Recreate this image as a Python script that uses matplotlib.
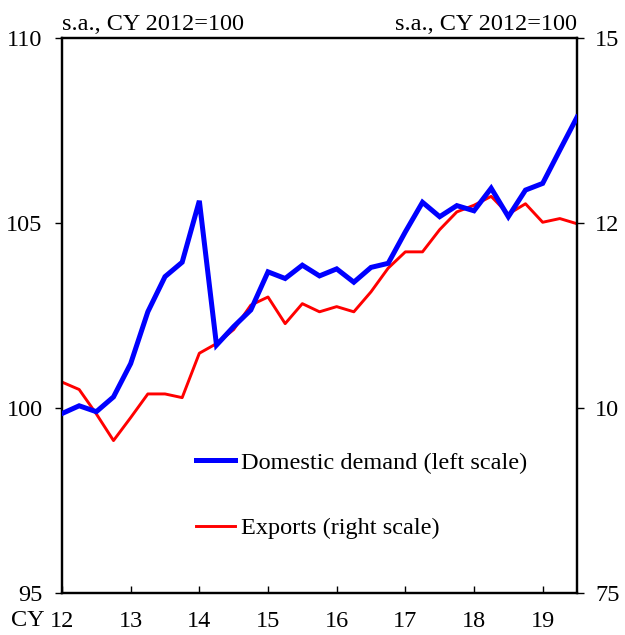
import matplotlib
matplotlib.use("Agg")
import matplotlib.pyplot as plt
import numpy as np

plt.rcParams['font.family'] = ['Liberation Serif', 'DejaVu Serif']

# Quarterly data, CY2012 Q1 .. CY2019 Q3
quarters = np.arange(31) / 4.0 + 12
domestic_demand = [99.85, 100.06, 99.9, 100.3, 101.2, 102.6, 103.55, 103.94, 105.6,
                   101.7, 102.2, 102.65, 103.68, 103.5, 103.86, 103.57, 103.76, 103.4,
                   103.8, 103.91, 104.76, 105.56, 105.17, 105.47, 105.33, 105.94,
                   105.17, 105.89, 106.07, 106.97, 107.86]
exports = [10.35, 10.25, 9.92, 9.56, 9.87, 10.19, 10.19, 10.14, 10.74, 10.87, 11.06,
           11.39, 11.5, 11.14, 11.41, 11.3, 11.37, 11.3, 11.57, 11.89, 12.11, 12.11,
           12.41, 12.65, 12.74, 12.86, 12.62, 12.76, 12.51, 12.56, 12.49]
year_ticks = [12, 13, 14, 15, 16, 17, 18, 19]
year_labels = ["12", "13", "14", "15", "16", "17", "18", "19"]
left_ticks = [95, 100, 105, 110]
right_ticks = [7.5, 10, 12.5, 15]
right_labels = ["75", "10", "12", "15"]

FS = 17.5

fig = plt.figure(figsize=(6.25, 6.35), dpi=100)
ax = fig.add_axes([62/625, 1-593/635, (577-62)/625, (593-38)/635])
ax2 = ax.twinx()

l1, = ax.plot(quarters, domestic_demand, color='#0000FF', lw=3.6,
              solid_joinstyle='miter', label='Domestic demand (left scale)', zorder=3)
l2, = ax2.plot(quarters, exports, color='#FF0000', lw=2.1,
               label='Exports (right scale)')
ax.set_zorder(ax2.get_zorder() + 1)
ax.patch.set_visible(False)

ax.set_xlim(12, 19.5)
ax.set_ylim(95, 110)
ax2.set_ylim(7.5, 15)

ax.set_xticks(year_ticks)
ax.set_xticklabels(year_labels)
ax.set_yticks(left_ticks)
ax.set_yticklabels([str(t) for t in left_ticks])
ax2.set_yticks(right_ticks)
ax2.set_yticklabels(right_labels)

for a in (ax, ax2):
    for s in a.spines.values():
        s.set_linewidth(1.6)
        s.set_color('black')
ax.tick_params(axis='x', direction='in', length=5, width=1, labelsize=FS, pad=13)
ax.tick_params(axis='y', direction='out', length=5, width=1, labelsize=FS, pad=9)
ax2.tick_params(axis='y', direction='out', length=5, width=1, labelsize=FS, pad=8)

fig.text(45/625, 1-621/635, "CY", fontsize=FS, ha='right', va='center')
ax.text(0.0, 1.006, "s.a., CY 2012=100", transform=ax.transAxes, fontsize=FS,
        ha='left', va='bottom')
ax.text(1.0, 1.006, "s.a., CY 2012=100", transform=ax.transAxes, fontsize=FS,
        ha='right', va='bottom')

ax.legend(handles=[l1, l2], loc='upper left', bbox_to_anchor=(0.2175, 0.294),
          frameon=False, fontsize=FS, handlelength=1.6, handletextpad=0.25,
          labelspacing=1.8)

fig.savefig("out.png", dpi=100)
